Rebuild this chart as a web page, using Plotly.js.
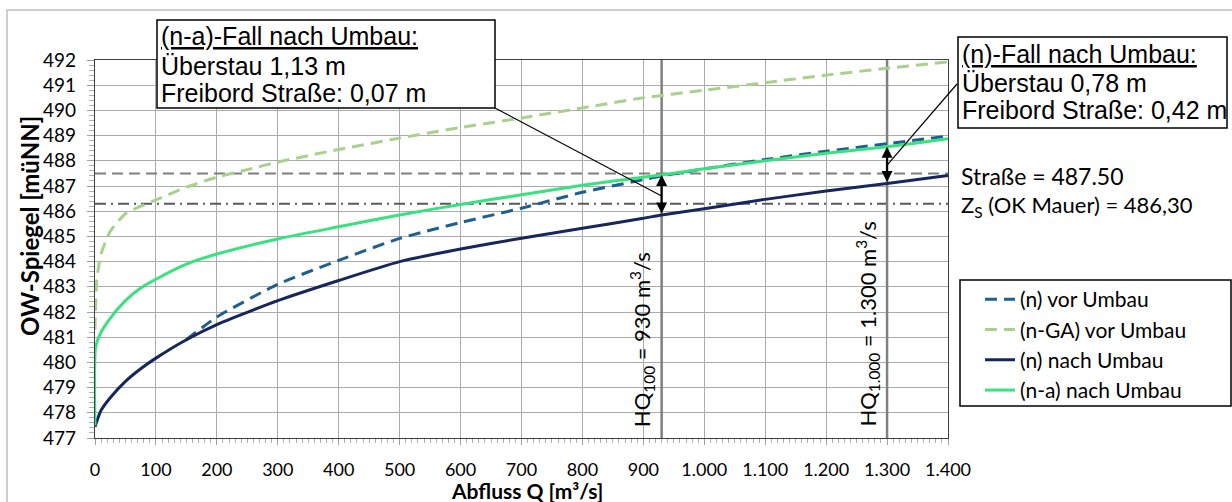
<!DOCTYPE html>
<html>
<head>
<meta charset="utf-8">
<script src="https://cdn.plot.ly/plotly-3.0.1.min.js"></script>
<style>
html,body{margin:0;padding:0;background:#fff;}
#chart{width:1232px;height:502px;}
</style>
</head>
<body>
<div id="chart"></div>
<script>
// ---------- data ----------
const Q_nVor  = [150,200,300,400,500,600,700,800,900,930,1000,1100,1200,1300,1400];
const H_nVor  = [480.9,481.8,483.1,484.05,484.92,485.55,486.12,486.75,487.25,487.4,487.68,488.05,488.38,488.68,488.98];

const Q_nGA   = [0,3,10,25,50,75,100,150,200,250,300,400,500,600,700,800,900,1000,1100,1200,1300,1400];
const H_nGA   = [481.3,483.3,484.3,485.2,485.9,486.2,486.45,486.95,487.35,487.65,487.95,488.45,488.9,489.32,489.7,490.1,490.5,490.8,491.1,491.4,491.67,491.93];

const Q_nNach = [0,10,25,50,75,100,150,200,300,400,500,600,700,800,900,930,1000,1100,1200,1300,1400];
const H_nNach = [477.45,478.1,478.6,479.25,479.75,480.17,480.9,481.5,482.45,483.25,484.0,484.5,484.93,485.32,485.72,485.85,486.1,486.47,486.8,487.1,487.42];

const Q_na    = [0,1,10,25,50,75,100,150,200,300,400,500,600,700,800,900,930,1000,1100,1200,1300,1400];
const H_na    = [477.5,480.6,481.2,481.75,482.45,482.95,483.3,483.9,484.3,484.9,485.38,485.85,486.27,486.65,487.03,487.35,487.44,487.68,488.0,488.3,488.56,488.88];

const SERIES_NAMES = ['(n) vor Umbau','(n-GA) vor Umbau','(n) nach Umbau','(n-a) nach Umbau'];

const STRASSE = 487.5;
const ZS = 486.3;
const HQ100 = 930;
const HQ1000 = 1300;

const X_TICK_VALS   = [0,100,200,300,400,500,600,700,800,900,1000,1100,1200,1300,1400];
const X_TICK_LABELS = ['0','100','200','300','400','500','600','700','800','900','1.000','1.100','1.200','1.300','1.400'];
const Y_TICK_VALS   = [477,478,479,480,481,482,483,484,485,486,487,488,489,490,491,492];

const BOX1_LINES = ['<u>(n-a)-Fall nach Umbau:</u>','Überstau 1,13 m','Freibord Straße: 0,07 m'];
const BOX2_LINES = ['<u>(n)-Fall nach Umbau:</u>','Überstau 0,78 m','Freibord Straße: 0,42 m'];

// ---------- layout helpers (pixel -> paper) ----------
const W=1232, H=502, ML=95, MR=284, MT=60, MB=64;
const PW=W-ML-MR, PH=H-MT-MB;
const px2x = p => (p-ML)/PW;
const px2y = p => (H-MB-p)/PH;
const at = (qs, hs, q) => hs[qs.indexOf(q)];

const SANS = 'Lato, "Open Sans", sans-serif';
const ARIAL = '"Liberation Sans", Arial, sans-serif';

const traces = [
  {x:Q_nVor, y:H_nVor, name:SERIES_NAMES[0], mode:'lines',
   line:{color:'#1f5f8f', width:3, dash:'12px,7px', shape:'spline', smoothing:0.6}},
  {x:Q_nGA, y:H_nGA, name:SERIES_NAMES[1], mode:'lines',
   line:{color:'#a9d18e', width:3, dash:'12px,7px', shape:'spline', smoothing:0.6}},
  {x:Q_nNach, y:H_nNach, name:SERIES_NAMES[2], mode:'lines',
   line:{color:'#17275a', width:3, shape:'spline', smoothing:0.6}},
  {x:Q_na, y:H_na, name:SERIES_NAMES[3], mode:'lines',
   line:{color:'#38e27f', width:3, shape:'spline', smoothing:0.6}}
];

const shapes = [
  // outer chart border
  {type:'rect', xref:'paper', yref:'paper', x0:px2x(7), y0:px2y(10), x1:px2x(1250), y1:px2y(520),
   line:{color:'#c0c0c0', width:1.5}, layer:'below'},
  // Straße
  {type:'line', xref:'x', yref:'y', x0:0, x1:1400, y0:STRASSE, y1:STRASSE,
   line:{color:'#7f7f7f', width:2, dash:'11px,6px'}, layer:'between'},
  // Zs
  {type:'line', xref:'x', yref:'y', x0:0, x1:1400, y0:ZS, y1:ZS,
   line:{color:'#595959', width:2, dash:'11px,5px,2px,5px'}, layer:'between'},
  // HQ lines
  {type:'line', xref:'x', yref:'y', x0:HQ100, x1:HQ100, y0:477, y1:492,
   line:{color:'#808080', width:2.5}, layer:'between'},
  {type:'line', xref:'x', yref:'y', x0:HQ1000, x1:HQ1000, y0:477, y1:492,
   line:{color:'#808080', width:2.5}, layer:'between'},
  // leader lines
  {type:'line', xref:'paper', yref:'paper', x0:px2x(495), y0:px2y(108),
   x1:HQ100/1400, y1:(486.6-477)/15, line:{color:'#000', width:1.2}},
  {type:'line', xref:'paper', yref:'paper', x0:px2x(957), y0:px2y(84),
   x1:HQ1000/1400, y1:(487.83-477)/15, line:{color:'#000', width:1.2}},
  // annotation boxes
  {type:'rect', xref:'paper', yref:'paper', x0:px2x(157), y0:px2y(20), x1:px2x(495), y1:px2y(108),
   fillcolor:'#fff', line:{color:'#000', width:1.5}},
  {type:'rect', xref:'paper', yref:'paper', x0:px2x(958), y0:px2y(37), x1:px2x(1227), y1:px2y(128),
   fillcolor:'#fff', line:{color:'#000', width:1.5}},
  // legend frame
  {type:'rect', xref:'paper', yref:'paper', x0:px2x(960), y0:px2y(280), x1:px2x(1231), y1:px2y(406),
   line:{color:'#000', width:1.5}}
];

const annotations = [];
const box1Base=[45,75,102], box2Base=[63,92,119];
BOX1_LINES.forEach((t,i)=>annotations.push({text:t, xref:'paper', yref:'paper', x:px2x(159), y:px2y(box1Base[i]-8.7),
  xanchor:'left', yanchor:'middle', showarrow:false, font:{family:ARIAL, size:25, color:'#000'}}));
BOX2_LINES.forEach((t,i)=>annotations.push({text:t, xref:'paper', yref:'paper', x:px2x(960), y:px2y(box2Base[i]-8.7),
  xanchor:'left', yanchor:'middle', showarrow:false, font:{family:ARIAL, size:25, color:'#000'}}));

// double arrows (from series values)
annotations.push({x:HQ100, y:at(Q_na,H_na,HQ100), ax:HQ100, ay:at(Q_nNach,H_nNach,HQ100), xref:'x', yref:'y', axref:'x', ayref:'y',
  text:'', showarrow:true, arrowside:'end+start', arrowhead:2, arrowsize:1.1, arrowwidth:2, arrowcolor:'#000', standoff:0, startstandoff:0});
annotations.push({x:HQ1000, y:at(Q_na,H_na,HQ1000), ax:HQ1000, ay:at(Q_nNach,H_nNach,HQ1000), xref:'x', yref:'y', axref:'x', ayref:'y',
  text:'', showarrow:true, arrowside:'end+start', arrowhead:2, arrowsize:1.1, arrowwidth:2, arrowcolor:'#000', standoff:0, startstandoff:0});

// HQ labels
annotations.push({text:'HQ<sub>100</sub> = 930 m<sup>3</sup>/s', x:HQ100, y:477, xref:'x', yref:'y', xanchor:'right', yanchor:'bottom',
  xshift:-2, yshift:9, textangle:-90, showarrow:false, font:{family:SANS, size:22, color:'#000'}});
annotations.push({text:'HQ<sub>1.000</sub> = 1.300 m<sup>3</sup>/s', x:HQ1000, y:477, xref:'x', yref:'y', xanchor:'right', yanchor:'bottom',
  xshift:-2, yshift:9, textangle:-90, showarrow:false, font:{family:SANS, size:22, color:'#000'}});

// reference level labels
annotations.push({text:'Straße = 487.50', xref:'paper', yref:'paper', x:px2x(959), y:px2y(176), xanchor:'left', yanchor:'middle',
  showarrow:false, font:{family:SANS, size:23, color:'#000'}});
annotations.push({text:'Z<sub>S</sub> (OK Mauer) = 486,30', xref:'paper', yref:'paper', x:px2x(959), y:px2y(206), xanchor:'left', yanchor:'middle',
  showarrow:false, font:{family:SANS, size:22, color:'#000'}});

// axis titles
annotations.push({text:'<b>OW-Spiegel [müNN]</b>', xref:'paper', yref:'paper', x:px2x(29), y:px2y(226), xanchor:'center', yanchor:'middle',
  textangle:-90, showarrow:false, font:{family:SANS, size:24, color:'#000'}});
annotations.push({text:'<b>Abfluss Q [m³/s]</b>', xref:'paper', yref:'paper', x:px2x(527), y:px2y(490.5), xanchor:'center', yanchor:'middle',
  showarrow:false, font:{family:SANS, size:21, color:'#000'}});

const layout = {
  width:W, height:H,
  margin:{l:ML, r:MR, t:MT, b:MB, pad:0},
  paper_bgcolor:'#fff', plot_bgcolor:'#fff',
  showlegend:true,
  legend:{x:px2x(980), y:px2y(279), xanchor:'left', yanchor:'top', bgcolor:'rgba(0,0,0,0)', borderwidth:0,
    font:{family:SANS, size:21, color:'#000'}, itemwidth:30},
  xaxis:{range:[0,1400], tickvals:X_TICK_VALS, ticktext:X_TICK_LABELS, showgrid:true, gridcolor:'#ababab', gridwidth:1,
    zeroline:false, showline:true, mirror:true, linecolor:'#404040', linewidth:1.2,
    ticks:'outside', ticklen:6, tickcolor:'#a0a0a0', ticklabelstandoff:9,
    minor:{dtick:10, ticks:'outside', ticklen:4, tickcolor:'#b0b0b0', showgrid:false},
    tickfont:{family:SANS, size:18, color:'#000'}, fixedrange:true},
  yaxis:{range:[477,492], tickvals:Y_TICK_VALS, showgrid:true, gridcolor:'#ababab', gridwidth:1,
    zeroline:false, showline:true, mirror:true, linecolor:'#404040', linewidth:1.2,
    ticks:'outside', ticklen:7, tickcolor:'#a0a0a0', ticklabelstandoff:7,
    minor:{dtick:0.2, ticks:'outside', ticklen:5, tickcolor:'#b0b0b0', showgrid:false},
    tickfont:{family:SANS, size:19, color:'#000'}, fixedrange:true},
  shapes:shapes,
  annotations:annotations
};

Plotly.newPlot('chart', traces, layout, {displayModeBar:false, staticPlot:true});
</script>
</body>
</html>
